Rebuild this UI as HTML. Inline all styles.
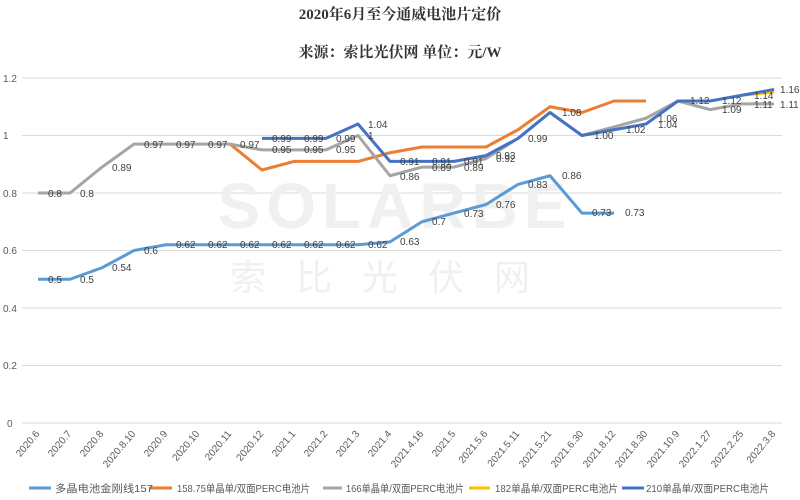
<!DOCTYPE html>
<html><head><meta charset="utf-8"><style>
body{margin:0;background:#fff}
svg{display:block}
text{font-family:"Liberation Sans","Noto Sans CJK SC",sans-serif}
.l{font-size:10px;fill:#404040}
.ax{font-size:10px;fill:#595959}
.lg{font-size:10.5px;fill:#595959}
</style></head><body>
<svg width="800" height="500" viewBox="0 0 800 500" xmlns="http://www.w3.org/2000/svg">
<rect width="800" height="500" fill="#fff"/>
<text x="400" y="19" text-anchor="middle" font-size="15" font-weight="bold" fill="#333" style="font-family:'Liberation Serif','Noto Serif CJK SC',serif">2020年6月至今通威电池片定价</text>
<text x="400" y="57" text-anchor="middle" font-size="15" font-weight="bold" fill="#333" style="font-family:'Liberation Serif','Noto Serif CJK SC',serif">来源：索比光伏网 单位：元/W</text>
<g stroke="#d9d9d9" stroke-width="1">
<line x1="22" y1="78" x2="782" y2="78"/><line x1="22" y1="135.5" x2="782" y2="135.5"/>
<line x1="22" y1="193" x2="782" y2="193"/><line x1="22" y1="250.5" x2="782" y2="250.5"/>
<line x1="22" y1="308" x2="782" y2="308"/><line x1="22" y1="365.5" x2="782" y2="365.5"/>
<line x1="22" y1="423" x2="782" y2="423"/>
</g>
<g class="ax"><text x="3" y="82">1.2</text><text x="3" y="139">1</text><text x="3" y="197">0.8</text><text x="3" y="254">0.6</text><text x="3" y="312">0.4</text><text x="3" y="369">0.2</text><text x="7" y="427">0</text></g>
<text x="395" y="228" text-anchor="middle" font-size="64" font-weight="bold" fill="#f0f0f0" letter-spacing="6">SOLARBE</text>
<text x="395" y="290" text-anchor="middle" font-size="36" fill="#f0f0f0" letter-spacing="30" style="font-family:'Noto Sans CJK SC',sans-serif">索比光伏网</text>
<g fill="none" stroke-width="3" stroke-linejoin="round">
<polyline stroke="#5B9BD5" points="38,279.25 70,279.25 102,267.75 134,250.5 166,244.75 198,244.75 230,244.75 262,244.75 294,244.75 326,244.75 358,244.75 390,241.9 422,221.75 454,213.1 486,204.5 518,184.4 550,175.75 582,213.1 614,213.1"/>
<polyline stroke="#ED7D31" points="230,144.1 262,170 294,161.4 326,161.4 358,161.4 390,152.75 422,147 454,147 486,147 518,129.75 550,106.75 582,112.5 614,101 646,101"/>
<polyline stroke="#A5A5A5" points="38,193 70,193 102,167.1 134,144.1 166,144.1 198,144.1 230,144.1 262,149.9 294,149.9 326,149.9 358,135.5 390,175.75 422,167.1 454,167.1 486,158.5 518,138.4 550,112.5 582,135.5 614,126.9 646,118.25 678,101 710,109.6 742,103.9 774,103.9"/>
<polyline stroke="#FFC000" points="742,95.25 774,92"/>
<polyline stroke="#4472C4" points="262,138.4 294,138.4 326,138.4 358,124 390,161.4 422,161.4 454,161.4 486,155.6 518,138.4 550,112.5 582,135.5 614,129.75 646,124 678,101 710,101 742,95.25 774,89.5"/>
</g>
<g class="l">
<text x="48" y="283">0.5</text><text x="80" y="283">0.5</text><text x="112" y="271">0.54</text><text x="144" y="254">0.6</text>
<text x="176" y="248">0.62</text><text x="208" y="248">0.62</text><text x="240" y="248">0.62</text><text x="272" y="248">0.62</text><text x="304" y="248">0.62</text><text x="336" y="248">0.62</text><text x="368" y="248">0.62</text>
<text x="400" y="245">0.63</text><text x="432" y="225">0.7</text><text x="464" y="217">0.73</text><text x="496" y="208">0.76</text><text x="528" y="188">0.83</text><text x="562" y="179">0.86</text><text x="592" y="216">0.73</text><text x="625" y="216">0.73</text>
<text x="48" y="197">0.8</text><text x="80" y="197">0.8</text><text x="112" y="171">0.89</text><text x="144" y="148">0.97</text><text x="176" y="148">0.97</text><text x="208" y="148">0.97</text><text x="240" y="148">0.97</text>
<text x="272" y="153">0.95</text><text x="304" y="153">0.95</text><text x="336" y="153">0.95</text><text x="368" y="139">1</text>
<text x="400" y="180">0.86</text><text x="432" y="171">0.89</text><text x="464" y="171">0.89</text><text x="496" y="162">0.92</text>
<text x="272" y="142">0.99</text><text x="304" y="142">0.99</text><text x="336" y="142">0.99</text><text x="368" y="128">1.04</text>
<text x="400" y="165">0.91</text><text x="432" y="165">0.91</text><text x="464" y="165">0.91</text><text x="496" y="159">0.93</text><text x="528" y="142">0.99</text>
<text x="562" y="116">1.08</text><text x="594" y="139">1.00</text><text x="626" y="133">1.02</text><text x="658" y="122">1.06</text><text x="658" y="128">1.04</text>
<text x="690" y="104">1.12</text><text x="722" y="104">1.12</text><text x="722" y="113">1.09</text><text x="754" y="99">1.14</text><text x="754" y="108">1.11</text><text x="780" y="93">1.16</text><text x="780" y="108">1.11</text>
</g>
<g class="ax" font-size="9">
<text transform="translate(40,434) rotate(-50)" text-anchor="end">2020.6</text>
<text transform="translate(72,434) rotate(-50)" text-anchor="end">2020.7</text>
<text transform="translate(104,434) rotate(-50)" text-anchor="end">2020.8</text>
<text transform="translate(136,434) rotate(-50)" text-anchor="end">2020.8.10</text>
<text transform="translate(168,434) rotate(-50)" text-anchor="end">2020.9</text>
<text transform="translate(200,434) rotate(-50)" text-anchor="end">2020.10</text>
<text transform="translate(232,434) rotate(-50)" text-anchor="end">2020.11</text>
<text transform="translate(264,434) rotate(-50)" text-anchor="end">2020.12</text>
<text transform="translate(296,434) rotate(-50)" text-anchor="end">2021.1</text>
<text transform="translate(328,434) rotate(-50)" text-anchor="end">2021.2</text>
<text transform="translate(360,434) rotate(-50)" text-anchor="end">2021.3</text>
<text transform="translate(392,434) rotate(-50)" text-anchor="end">2021.4</text>
<text transform="translate(424,434) rotate(-50)" text-anchor="end">2021.4.16</text>
<text transform="translate(456,434) rotate(-50)" text-anchor="end">2021.5</text>
<text transform="translate(488,434) rotate(-50)" text-anchor="end">2021.5.6</text>
<text transform="translate(520,434) rotate(-50)" text-anchor="end">2021.5.11</text>
<text transform="translate(552,434) rotate(-50)" text-anchor="end">2021.5.21</text>
<text transform="translate(584,434) rotate(-50)" text-anchor="end">2021.6.30</text>
<text transform="translate(616,434) rotate(-50)" text-anchor="end">2021.8.12</text>
<text transform="translate(648,434) rotate(-50)" text-anchor="end">2021.8.30</text>
<text transform="translate(680,434) rotate(-50)" text-anchor="end">2021.10.9</text>
<text transform="translate(712,434) rotate(-50)" text-anchor="end">2022.1.27</text>
<text transform="translate(744,434) rotate(-50)" text-anchor="end">2022.2.25</text>
<text transform="translate(776,434) rotate(-50)" text-anchor="end">2022.3.8</text>
</g>
<g stroke-width="3">
<line x1="29" y1="488" x2="51" y2="488" stroke="#5B9BD5"/>
<line x1="149" y1="488" x2="172" y2="488" stroke="#ED7D31"/>
<line x1="323" y1="488" x2="342" y2="488" stroke="#A5A5A5"/>
<line x1="469" y1="488" x2="490" y2="488" stroke="#FFC000"/>
<line x1="622" y1="488" x2="644" y2="488" stroke="#4472C4"/>
</g>
<g class="lg">
<text x="55" y="492" textLength="98" lengthAdjust="spacingAndGlyphs">多晶电池金刚线157</text>
<text x="177" y="492" textLength="133" lengthAdjust="spacingAndGlyphs">158.75单晶单/双面PERC电池片</text>
<text x="346" y="492" textLength="118" lengthAdjust="spacingAndGlyphs">166单晶单/双面PERC电池片</text>
<text x="495" y="492" textLength="123" lengthAdjust="spacingAndGlyphs">182单晶单/双面PERC电池片</text>
<text x="646" y="492" textLength="123" lengthAdjust="spacingAndGlyphs">210单晶单/双面PERC电池片</text>
</g>
</svg>
</body></html>
